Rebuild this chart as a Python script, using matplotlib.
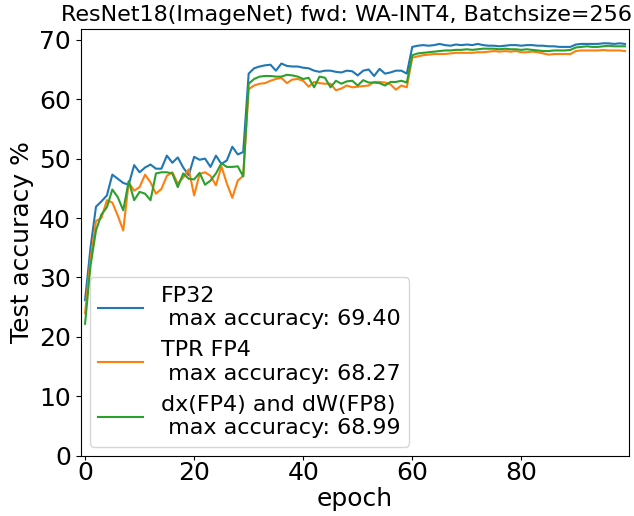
import matplotlib
matplotlib.use("Agg")
import matplotlib.pyplot as plt
import numpy as np

# Test accuracy per epoch
fp32 = [26.2, 35.0, 41.9, 42.8, 43.8, 47.3, 46.6, 45.9, 45.6, 48.9,
        47.7, 48.5, 49.0, 48.3, 48.3, 50.5, 49.3, 50.2, 48.5, 47.2,
        50.3, 49.8, 50.0, 48.6, 50.5, 49.1, 49.7, 52.0, 50.7, 51.1,
        64.3, 65.2, 65.5, 65.7, 65.8, 64.8, 66.0, 65.6, 65.5, 65.5,
        65.3, 65.2, 64.8, 64.6, 64.8, 64.8, 64.6, 64.5, 64.8, 64.7,
        64.0, 64.8, 65.0, 63.9, 65.1, 64.3, 64.5, 64.8, 64.8, 64.3,
        68.8, 69.0, 69.1, 69.0, 69.1, 69.3, 69.1, 69.0, 69.2, 69.1,
        69.2, 69.1, 69.3, 69.1, 69.0, 69.0, 68.9, 69.0, 69.1, 69.1,
        69.0, 69.1, 69.1, 69.0, 69.0, 68.9, 68.9, 68.8, 68.8, 68.8,
        69.2, 69.3, 69.3, 69.3, 69.3, 69.4, 69.4, 69.3, 69.4, 69.3]

tpr_fp4 = [24.0, 33.0, 39.5, 40.0, 43.0, 42.6, 40.4, 37.9, 46.0, 44.6,
           45.2, 47.3, 46.0, 44.1, 44.9, 47.1, 47.7, 45.8, 46.8, 48.2,
           43.8, 47.4, 47.7, 47.1, 45.5, 48.7, 45.8, 43.4, 46.3, 47.1,
           61.7, 62.3, 62.6, 62.7, 63.1, 63.4, 63.6, 62.7, 63.3, 63.4,
           63.1, 62.1, 62.9, 62.7, 62.6, 62.6, 61.5, 61.8, 62.3, 62.0,
           62.1, 62.2, 62.3, 62.9, 62.9, 62.8, 62.5, 61.6, 62.3, 62.0,
           67.0, 67.2, 67.4, 67.5, 67.6, 67.6, 67.6, 67.7, 67.8, 67.8,
           67.8, 67.8, 67.9, 67.9, 68.0, 68.1, 68.0, 68.1, 68.0, 68.1,
           67.9, 67.9, 68.0, 67.9, 67.7, 67.5, 67.6, 67.6, 67.6, 67.6,
           68.1, 68.2, 68.2, 68.2, 68.2, 68.27, 68.2, 68.2, 68.2, 68.1]

dx_fp4_dw_fp8 = [22.2, 32.0, 37.9, 40.6, 41.8, 44.8, 43.5, 41.3, 46.2, 43.0,
                 44.4, 44.1, 43.0, 47.5, 47.7, 47.7, 47.5, 45.2, 47.5, 46.6,
                 46.5, 47.6, 45.6, 46.3, 47.5, 49.2, 48.6, 48.6, 48.7, 47.0,
                 62.6, 63.4, 63.8, 63.9, 63.9, 63.8, 63.8, 64.1, 64.0, 63.8,
                 63.4, 63.6, 62.0, 63.8, 63.6, 62.0, 63.1, 62.6, 63.0, 63.1,
                 62.3, 63.2, 62.8, 62.8, 62.7, 62.3, 62.9, 62.9, 63.1, 62.8,
                 67.4, 67.7, 67.8, 67.9, 68.0, 68.1, 68.2, 68.2, 68.3, 68.3,
                 68.4, 68.3, 68.4, 68.5, 68.5, 68.5, 68.4, 68.5, 68.4, 68.4,
                 68.3, 68.4, 68.3, 68.2, 68.1, 68.1, 68.2, 68.2, 68.2, 68.3,
                 68.7, 68.8, 68.9, 68.8, 68.8, 68.9, 68.99, 68.9, 68.9, 68.9]

series = [("FP32", fp32), ("TPR FP4", tpr_fp4), ("dx(FP4) and dW(FP8)", dx_fp4_dw_fp8)]

fig = plt.figure(figsize=(6.34, 5.16), dpi=100)
ax = fig.add_axes([0.1273, 0.1169, 0.8653, 0.8263])

for name, acc in series:
    epochs = np.arange(len(acc))
    ax.plot(epochs, acc, label=f"{name}\n max accuracy: {max(acc):.2f}")

ax.set_ylim(bottom=0)
ax.set_xlim(-0.8, 99.8)
ax.set_xlabel("epoch", fontsize=18, labelpad=1)
ax.set_ylabel("Test accuracy %", fontsize=18)
# title sits a little left of the axes centre in the original
ax.set_title("ResNet18(ImageNet) fwd: WA-INT4, Batchsize=256", fontsize=16, x=0.485)
ax.tick_params(labelsize=18)
ax.tick_params(axis="x", length=3, pad=1)
ax.legend(loc="lower left", fontsize=16, borderaxespad=0.4)

fig.savefig("out.png", dpi=100)
